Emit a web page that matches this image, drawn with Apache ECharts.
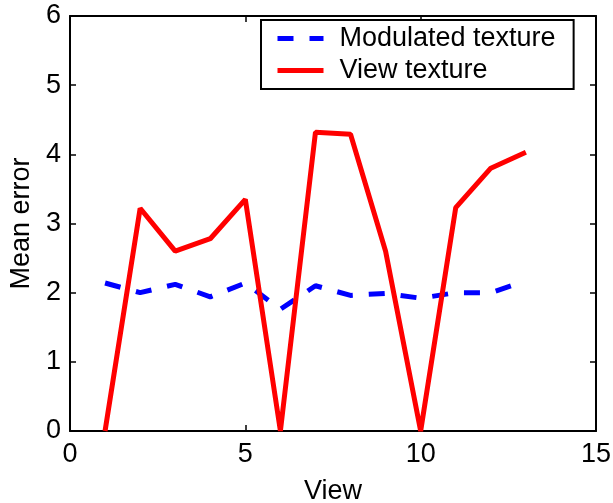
<!DOCTYPE html>
<html>
<head>
<meta charset="utf-8">
<script src="https://cdn.jsdelivr.net/npm/echarts@6/dist/echarts.min.js"></script>
<style>
  html, body { margin: 0; padding: 0; background: #fff; }
  #chart { width: 613px; height: 503px; }
</style>
</head>
<body>
<div id="chart"></div>
<script>
// Mean error per view for the two texture methods
const views = [1, 2, 3, 4, 5, 6, 7, 8, 9, 10, 11, 12, 13];
const modulatedTexture = [2.14, 2.0, 2.12, 1.94, 2.14, 1.76, 2.1, 1.96, 1.99, 1.92, 2.0, 2.0, 2.17];
const viewTexture = [0, 3.22, 2.6, 2.78, 3.35, 0, 4.32, 4.29, 2.6, 0, 3.23, 3.8, 4.03];

const xTicks = { min: 0, max: 15, interval: 5 };
const yTicks = { min: 0, max: 6, interval: 1 };

const FONT = 'Liberation Sans, Arial, sans-serif';
const mkAxisLine = () => ({ onZero: false, lineStyle: { color: '#000', width: 2 } });
const mkTick = () => ({ show: true, inside: true, length: 6, lineStyle: { color: '#000', width: 1.5 } });

const chart = echarts.init(document.getElementById('chart'), null, { renderer: 'canvas' });

chart.setOption({
  animation: false,
  backgroundColor: '#fff',
  textStyle: { fontFamily: FONT },
  grid: { left: 70, right: 17, top: 16, bottom: 72, containLabel: false, outerBoundsMode: 'none' },
  legend: {
    left: 261,
    top: 20,
    orient: 'vertical',
    padding: [5, 18, 5, 14],
    itemGap: 5,
    itemWidth: 46,
    itemHeight: 14,
    borderColor: '#000',
    borderWidth: 2,
    backgroundColor: '#fff',
    itemStyle: { opacity: 0 },
    lineStyle: { width: 5 },
    textStyle: { fontSize: 27, color: '#000', fontFamily: FONT, lineHeight: 27, padding: [0, 0, 0, 11] },
    data: ['Modulated texture', 'View texture']
  },
  xAxis: [
    {
      type: 'value', min: xTicks.min, max: xTicks.max, interval: xTicks.interval,
      name: 'View', nameLocation: 'middle', nameGap: 47,
      nameTextStyle: { fontSize: 27, color: '#000', fontFamily: FONT },
      axisLine: mkAxisLine(), axisTick: mkTick(),
      axisLabel: { fontSize: 27, color: '#000', margin: 10, fontFamily: FONT },
      splitLine: { show: false }
    },
    {
      type: 'value', position: 'top', min: xTicks.min, max: xTicks.max, interval: xTicks.interval,
      axisLine: mkAxisLine(), axisTick: mkTick(), axisLabel: { show: false }, splitLine: { show: false }
    }
  ],
  yAxis: [
    {
      type: 'value', min: yTicks.min, max: yTicks.max, interval: yTicks.interval,
      name: 'Mean error', nameLocation: 'middle', nameGap: 33,
      nameTextStyle: { fontSize: 27, color: '#000', fontFamily: FONT },
      axisLine: mkAxisLine(), axisTick: mkTick(),
      axisLabel: { fontSize: 27, color: '#000', margin: 9, fontFamily: FONT },
      splitLine: { show: false }
    },
    {
      type: 'value', position: 'right', min: yTicks.min, max: yTicks.max, interval: yTicks.interval,
      axisLine: mkAxisLine(), axisTick: mkTick(), axisLabel: { show: false }, splitLine: { show: false }
    }
  ],
  series: [
    {
      name: 'Modulated texture',
      type: 'line',
      xAxisIndex: 0, yAxisIndex: 0,
      data: views.map((v, i) => [v, modulatedTexture[i]]),
      symbol: 'none',
      lineStyle: { color: '#0000ff', width: 5, type: [16, 16] },
      itemStyle: { color: '#0000ff' },
      z: 3
    },
    {
      name: 'View texture',
      type: 'line',
      xAxisIndex: 0, yAxisIndex: 0,
      data: views.map((v, i) => [v, viewTexture[i]]),
      symbol: 'none',
      lineStyle: { color: '#ff0000', width: 5 },
      itemStyle: { color: '#ff0000' },
      z: 4
    }
  ]
});
</script>
</body>
</html>
